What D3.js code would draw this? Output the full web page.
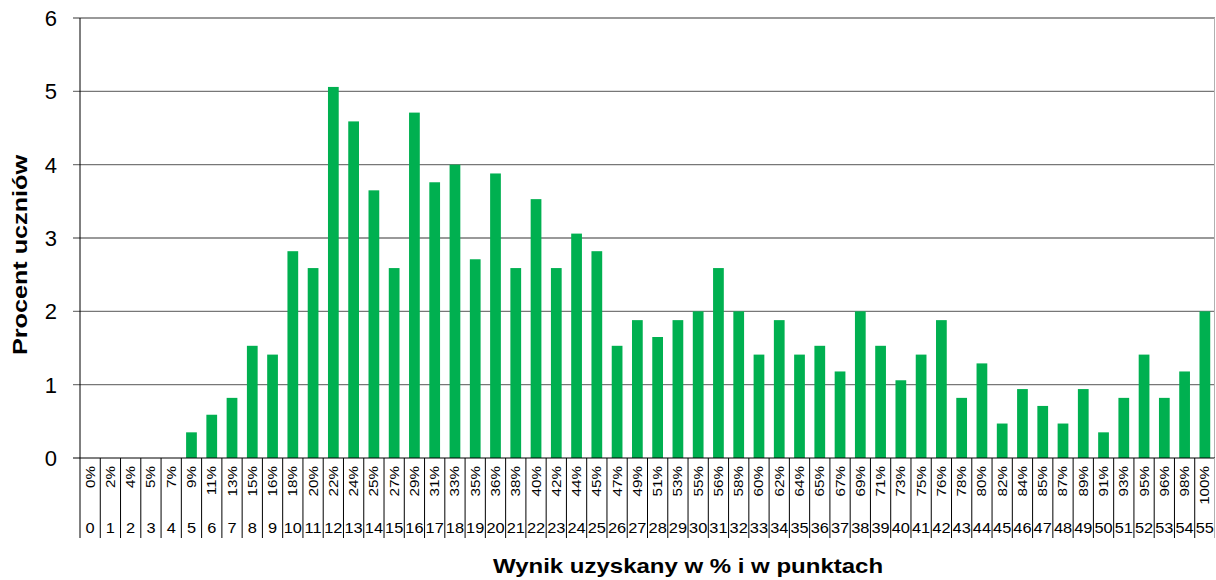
<!DOCTYPE html>
<html>
<head>
<meta charset="utf-8">
<script src="https://cdn.jsdelivr.net/npm/d3@7"></script>
<style>
  body { margin: 0; background: #fff; }
  svg { display: block; font-family: "Liberation Sans", Arial, sans-serif; }
</style>
</head>
<body>
<svg id="chart" width="1216" height="580"></svg>
<script>
// points 0..55
const points = d3.range(0, 56);
const percentLabels = ['0%','2%','4%','5%','7%','9%','11%','13%','15%','16%','18%','20%','22%','24%','25%','27%','29%','31%','33%','35%',
  '36%','38%','40%','42%','44%','45%','47%','49%','51%','53%','55%','56%','58%','60%','62%','64%','65%','67%','69%','71%',
  '73%','75%','76%','78%','80%','82%','84%','85%','87%','89%','91%','93%','95%','96%','98%','100%'];
const shares = [0,0,0,0,0,0.35,0.59,0.82,1.53,1.41,2.82,2.59,5.06,4.59,3.65,2.59,4.71,3.76,4.0,2.71,
  3.88,2.59,3.53,2.59,3.06,2.82,1.53,1.88,1.65,1.88,2.0,2.59,2.0,1.41,1.88,1.41,1.53,1.18,2.0,1.53,
  1.06,1.41,1.88,0.82,1.29,0.47,0.94,0.71,0.47,0.94,0.35,0.82,1.41,0.82,1.18,2.0];
const yTicks = [0,1,2,3,4,5,6];

const margin = { top: 18, right: 1, bottom: 122, left: 80 };
const width = 1216 - margin.left - margin.right;
const height = 580 - margin.top - margin.bottom;
const stretch = 1.17; // text in the original is a bit wider than Arial

const svg = d3.select('#chart');
const g = svg.append('g').attr('transform', `translate(${margin.left},${margin.top})`);

const x = d3.scaleBand().domain(points).range([0, width]).paddingInner(0.47).paddingOuter(0.235);
const xb = d3.scaleBand().domain(points).range([0, width]);
const y = d3.scaleLinear().domain([0, 6]).range([height, 0]);

// gridlines
g.selectAll('.grid').data(yTicks.filter(d => d > 0)).join('line')
  .attr('x1', -7).attr('x2', width)
  .attr('y1', d => y(d)).attr('y2', d => y(d))
  .attr('stroke', '#777').attr('stroke-width', 1.3);

// right border
g.append('line').attr('x1', width - 0.5).attr('x2', width - 0.5)
  .attr('y1', 0).attr('y2', height).attr('stroke', '#b0b0b0');

// bars
g.selectAll('.bar').data(points).join('rect')
  .attr('x', d => x(d))
  .attr('width', x.bandwidth())
  .attr('y', d => y(shares[d]))
  .attr('height', d => height - y(shares[d]))
  .attr('fill', '#00b050');

// y axis
g.append('line').attr('x1', 0).attr('x2', 0).attr('y1', 0).attr('y2', height).attr('stroke', '#000');
g.append('line').attr('x1', -7).attr('x2', 0).attr('y1', height).attr('y2', height).attr('stroke', '#000');
g.selectAll('.ytl').data(yTicks).join('text')
  .attr('x', -23).attr('y', d => y(d)).attr('dy', '0.36em')
  .attr('text-anchor', 'end').attr('font-size', 22).text(d => d);

// x axis line
g.append('line').attr('x1', 0).attr('x2', width).attr('y1', height).attr('y2', height).attr('stroke', '#000');

// category dividers
g.selectAll('.div').data(d3.range(0, 57)).join('line')
  .attr('x1', d => d === 56 ? width - 0.5 : xb.step() * d)
  .attr('x2', d => d === 56 ? width - 0.5 : xb.step() * d)
  .attr('y1', height).attr('y2', height + 80)
  .attr('stroke', d => d === 56 ? '#b0b0b0' : '#000').attr('stroke-width', 1);

// percent labels (rotated)
g.selectAll('.pl').data(points).join('text')
  .attr('transform', d => `translate(${xb(d) + xb.bandwidth() / 2 + 4.5},${height + 8}) rotate(-90) scale(${stretch},1)`)
  .attr('text-anchor', 'end').attr('font-size', 13).text(d => percentLabels[d]);

// point labels
g.selectAll('.nl').data(points).join('text')
  .attr('transform', d => `translate(${xb(d) + xb.bandwidth() / 2},${height + 75}) scale(${stretch},1)`)
  .attr('text-anchor', 'middle').attr('font-size', 14).text(d => d);

// titles
svg.append('text').attr('transform', 'translate(688,573) scale(1.2,1)').attr('text-anchor', 'middle')
  .attr('font-size', 20).attr('font-weight', 'bold').text('Wynik uzyskany w % i w punktach');
svg.append('text').attr('transform', 'translate(27,255) rotate(-90) scale(1.2,1)').attr('text-anchor', 'middle')
  .attr('font-size', 21).attr('font-weight', 'bold').text('Procent uczniów');
</script>
</body>
</html>
